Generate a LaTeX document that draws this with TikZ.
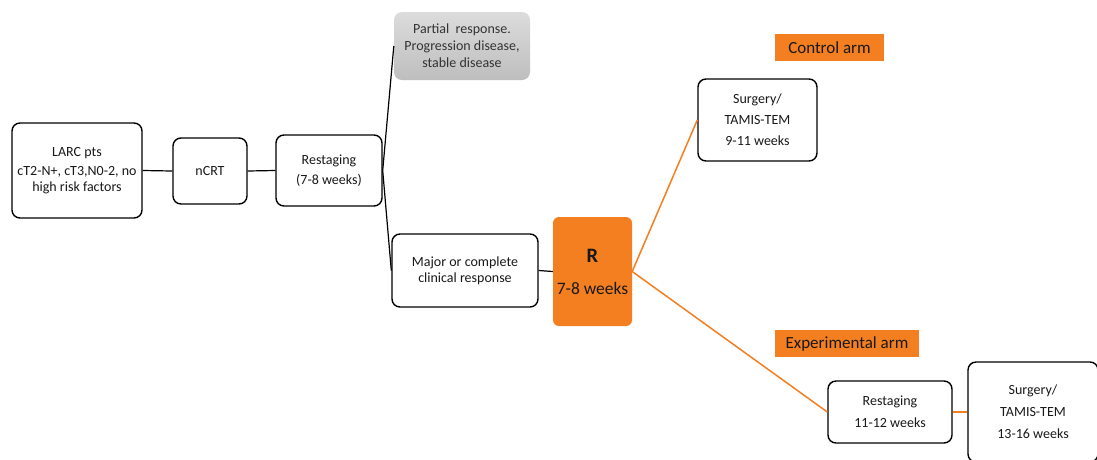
\documentclass[tikz,border=0pt]{standalone}
\usepackage{fontspec}
\setmainfont{Carlito}
\definecolor{orng}{HTML}{F47F20}
\definecolor{gtop}{HTML}{DCDCDC}
\definecolor{gbot}{HTML}{BEBEBE}
\begin{document}
\begin{tikzpicture}[x=1pt,y=-1pt,
  box/.style={draw=black, line width=1.4pt, rounded corners=8pt, fill=white, align=center, inner sep=0pt, text=black!90, font=\fontsize{14}{16}\selectfont},
  graybox/.style={rounded corners=8pt, top color=gtop, bottom color=gbot, align=center, inner sep=0pt, text=black!80, font=\fontsize{14}{16}\selectfont},
  rbox/.style={rounded corners=6pt, fill=orng, align=center, inner sep=0pt, text=black!90, font=\fontsize{17.5}{21}\selectfont},
  armlabel/.style={fill=orng, inner sep=0pt, text=black!90, font=\fontsize{17}{20}\selectfont},
  blk/.style={draw=black, line width=1.2pt},
  org/.style={draw=orng, line width=1.5pt}]
\useasboundingbox (0,0) rectangle (1097,459);
\clip (0,0) rectangle (1097,459);
\fill[white] (0,0) rectangle (1097,459);

\node[box, minimum width=130pt, minimum height=95pt] (larc) at (77,170.5) {LARC pts\\[3pt]cT2-N+, cT3,N0-2, no\\high risk factors};
\node[box, minimum width=74pt, minimum height=66pt] (ncrt) at (210,171) {nCRT};
\node[box, minimum width=106pt, minimum height=71pt] (rest) at (329,170.5) {Restaging\\[4pt](7-8 weeks)};
\node[graybox, minimum width=136pt, minimum height=68pt] (partial) at (462,46) {Partial\ \ response.\\[1pt]Progression disease,\\[1pt]stable disease};
\node[box, minimum width=146pt, minimum height=73pt] (major) at (465,270.5) {Major or complete\\clinical response};
\node[rbox, minimum width=79pt, minimum height=109pt] (R) at (592.5,271.5) {{\fontsize{20.5}{21}\selectfont\bfseries R}\\[11pt]7-8 weeks};
\node[armlabel, minimum width=109pt, minimum height=27pt] (ctrl) at (829.5,47.5) {Control arm};
\node[box, minimum width=119pt, minimum height=82pt] (surg1) at (757.5,120) {Surgery/\\[5pt]TAMIS-TEM\\[5pt]9-11 weeks};
\node[armlabel, minimum width=144pt, minimum height=27pt] (exp) at (847,343.5) {Experimental arm};
\node[box, minimum width=124pt, minimum height=62pt] (rest2) at (890,412) {Restaging\\[6pt]11-12 weeks};
\node[box, minimum width=130pt, minimum height=100pt] (surg2) at (1033,412) {Surgery/\\[6pt]TAMIS-TEM\\[6pt]13-16 weeks};

\draw[blk] (larc.east) -- (ncrt.west);
\draw[blk] (ncrt.east) -- (rest.west);
\draw[blk] (rest.east) -- (partial.west);
\draw[blk] (rest.east) -- (major.west);
\draw[blk] (major.east) -- (R.west);
\draw[org] (R.east) -- (surg1.west);
\draw[org] (R.east) -- (rest2.west);
\draw[org] (rest2.east) -- (surg2.west);
\end{tikzpicture}
\end{document}
